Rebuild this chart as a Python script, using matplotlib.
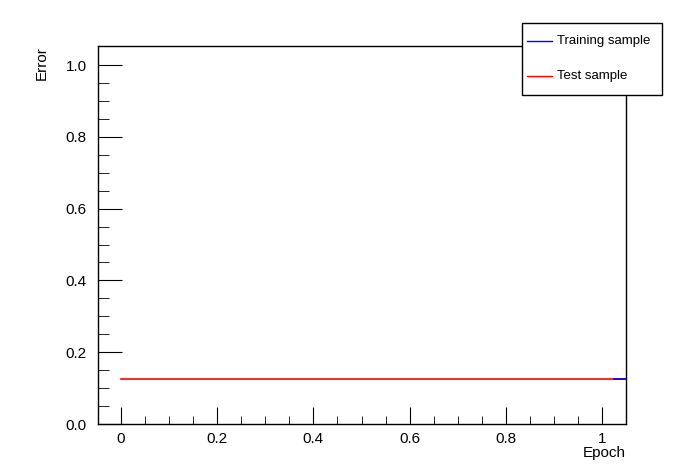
import matplotlib
matplotlib.use("Agg")
from matplotlib import pyplot as plt
from matplotlib.ticker import MultipleLocator, FixedLocator
from matplotlib.patches import Rectangle
from matplotlib.lines import Line2D

plt.rcParams["font.family"] = ["Liberation Sans", "DejaVu Sans"]

# error per epoch
train_epoch = [1.025, 1.05]
train_error = [0.1255, 0.1255]
test_epoch = [0.0, 1.05]
test_error = [0.1245, 0.1245]

W, H = 696, 472
fig = plt.figure(figsize=(W / 100, H / 100), dpi=100)
ax = fig.add_axes([98 / W, 1 - 424 / H, (626 - 98) / W, (424 - 46) / H])

ax.plot(test_epoch, test_error, color="red", lw=1.2, label="Test sample", zorder=2)
ax.plot(train_epoch, train_error, color="blue", lw=1.2, label="Training sample", zorder=3)

ax.set_xlim(-0.048, 1.05)
ax.set_ylim(0, 1.053)
ax.xaxis.set_major_locator(MultipleLocator(0.2))
ax.xaxis.set_minor_locator(FixedLocator([i * 0.05 for i in range(21)]))
ax.yaxis.set_major_locator(MultipleLocator(0.2))
ax.yaxis.set_minor_locator(FixedLocator([i * 0.05 for i in range(21)]))
ax.xaxis.set_major_formatter(matplotlib.ticker.FuncFormatter(lambda v, p: "0" if abs(v) < 1e-9 else ("1" if abs(v - 1) < 1e-9 else f"{v:.1f}")))
ax.yaxis.set_major_formatter(matplotlib.ticker.FormatStrFormatter("%.1f"))
ax.tick_params(axis="x", which="major", direction="in", length=12, labelsize=11, pad=6)
ax.tick_params(axis="x", which="minor", direction="in", length=6)
ax.tick_params(axis="y", which="major", direction="in", length=17, labelsize=11, pad=8)
ax.tick_params(axis="y", which="minor", direction="in", length=8)
ax.tick_params(top=False, right=False, which="both")
for s in ax.spines.values():
    s.set_linewidth(1.0)

ax.set_xlabel("Epoch", fontsize=11, loc="right", labelpad=0)
ax.set_ylabel("Error", fontsize=11, loc="top", labelpad=12)

# legend box drawn in figure pixels, like the ROOT TLegend
fig.patches.append(Rectangle((522 / W, 1 - 95 / H), 140 / W, 72 / H,
                             transform=fig.transFigure, facecolor="white",
                             edgecolor="black", lw=1.0, zorder=5))
entries = [("Training sample", "blue", 41), ("Test sample", "red", 76)]
for name, col, ypx in entries:
    fig.lines.append(Line2D([527 / W, 552 / W], [1 - ypx / H] * 2,
                            transform=fig.transFigure, color=col, lw=1.0, zorder=6))
    fig.text(557 / W, 1 - ypx / H, name, fontsize=9.5, va="center", ha="left", zorder=6)

fig.savefig("out.png", dpi=100)
